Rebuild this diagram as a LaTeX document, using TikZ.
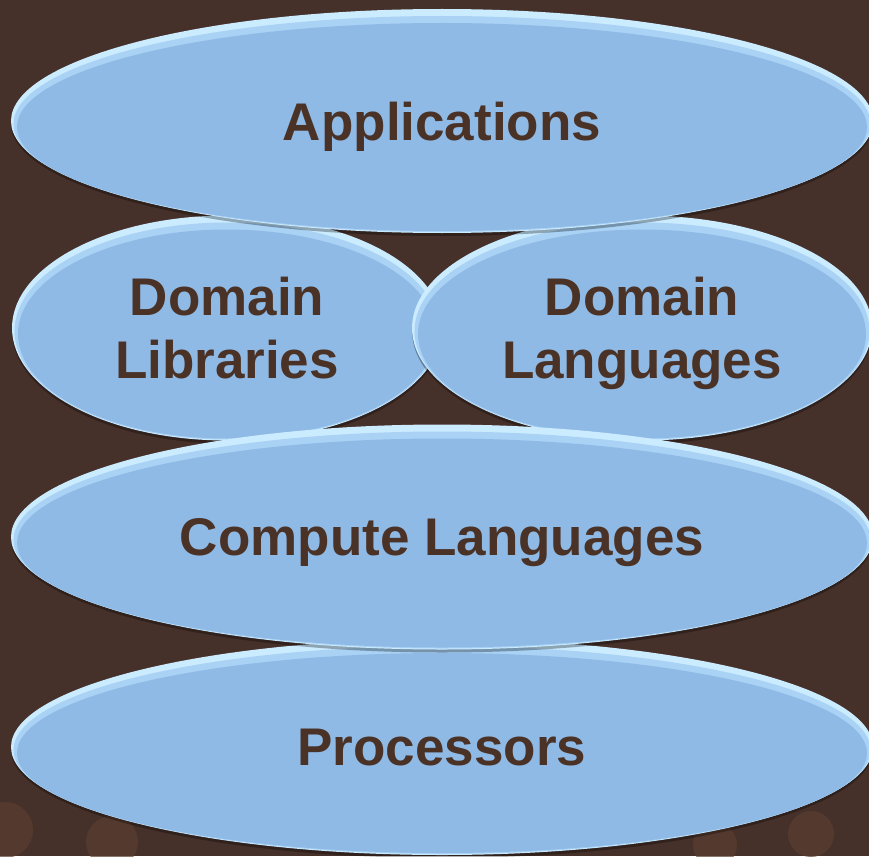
\documentclass[tikz,border=0pt]{standalone}
\usepackage{fontspec}
\setmainfont{Liberation Sans}
\usetikzlibrary{shapes.geometric, shadows, calc}

\definecolor{bg}{HTML}{46302A}
\definecolor{sky}{HTML}{8FBAE5}
\definecolor{haze}{HTML}{A9D2F5}
\definecolor{rim}{HTML}{CBEBFF}
\definecolor{ink}{HTML}{4A3226}
\definecolor{bokeh}{HTML}{5A3F30}

\begin{document}
\begin{tikzpicture}[
        x=1pt, y=-1pt,
        layer/.style={ellipse, fill=rim, inner sep=0pt, text=ink, align=center,
            text depth=0pt,
            font=\bfseries\fontsize{53}{63}\selectfont,
            drop shadow={shadow xshift=0pt, shadow yshift=-3pt, fill=black, opacity=0.3},
            path picture={\fill[haze] let \p1=(path picture bounding box.north east),
                \p2=(path picture bounding box.center) in
                ([yshift=-3pt]\p2) ellipse [x radius=\x1-\x2-2.5pt, y radius=\y1-\y2-4pt];
                \fill[sky] let \p1=(path picture bounding box.north east),
                \p2=(path picture bounding box.center) in
                ([yshift=-6pt]\p2) ellipse [x radius=\x1-\x2-6pt, y radius=\y1-\y2-8pt];}},
        spot/.style={fill=bokeh, opacity=0.7}
    ]
    % Background
    \fill[bg] (0,0) rectangle (869,856);
    \useasboundingbox (0,0) rectangle (869,856);
    \fill[spot] (5,830) circle (28);
    \fill[spot] (112,842) circle (26);
    \fill[spot] (715,845) circle (22);
    \fill[spot] (811,834) circle (23);

    % Layers, bottom to top
    \node[layer, minimum width=862pt, minimum height=216pt] (procs) at (442,747) {Processors};
    \node[layer, minimum width=430pt, minimum height=225pt] (domlib) at (227,328) {Domain\\Libraries};
    \node[layer, minimum width=460pt, minimum height=225pt] (domlang) at (642,328) {Domain\\Languages};
    \node[layer, minimum width=862pt, minimum height=225pt] (compute) at (442,537) {Compute Languages};
    \node[layer, minimum width=862pt, minimum height=224pt] (apps) at (442,121) {Applications};
\end{tikzpicture}
\end{document}
